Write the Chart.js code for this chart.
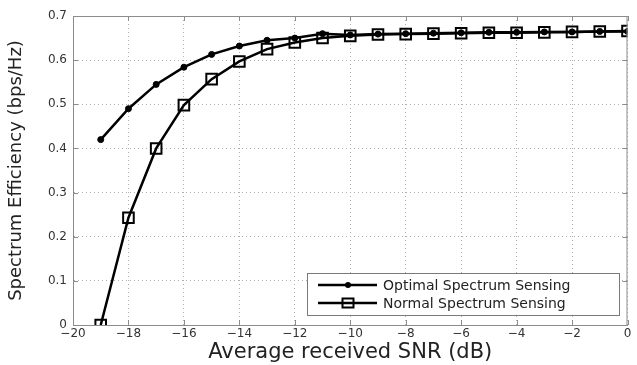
<!DOCTYPE html>
<html lang="en">
<head>
  <meta charset="UTF-8">
  <title>Spectrum Efficiency vs Average received SNR</title>
  <script src="https://cdn.jsdelivr.net/npm/chart.js"></script>
  <style>
    html, body { margin: 0; padding: 0; background: #fff; }
    #wrap { width: 637px; height: 365px; position: relative; }
  </style>
</head>
<body>
<div id="wrap"><canvas id="seChart"></canvas></div>

<script>
// SNR in dB
const snr = [-19, -18, -17, -16, -15, -14, -13, -12, -11, -10, -9, -8, -7, -6, -5, -4, -3, -2, -1, 0];
// spectrum efficiency (bps/Hz)
const optimal = [0.42, 0.49, 0.545, 0.584, 0.613, 0.632, 0.645, 0.650, 0.660, 0.657, 0.659, 0.660, 0.661, 0.662, 0.663, 0.663, 0.664, 0.664, 0.665, 0.665];
const normal = [0.0, 0.243, 0.40, 0.498, 0.557, 0.597, 0.625, 0.640, 0.650, 0.655, 0.658, 0.659, 0.660, 0.661, 0.662, 0.662, 0.663, 0.664, 0.665, 0.666];
const seriesNames = ["Optimal Spectrum Sensing", "Normal Spectrum Sensing"];
const xTicks = [-20, -18, -16, -14, -12, -10, -8, -6, -4, -2, 0];

const FONT = "'DejaVu Sans', Arial, sans-serif";
const frameColor = "#8c8c8c";

const toPoints = (ys) => snr.map((x, i) => ({ x: x, y: ys[i] }));

// box round the plot, inward tick marks, and the legend inside the axes
const framePlugin = {
  id: "frame",
  afterDraw(chart) {
    const { ctx, chartArea: a, scales } = chart;
    ctx.save();
    ctx.strokeStyle = frameColor;
    ctx.lineWidth = 1;
    ctx.strokeRect(a.left + 0.5, a.top + 0.5, a.right - a.left - 1, a.bottom - a.top);
    ctx.beginPath();
    xTicks.forEach(v => {
      const px = Math.round(scales.x.getPixelForValue(v)) + 0.5;
      ctx.moveTo(px, a.bottom); ctx.lineTo(px, a.bottom - 5);
      ctx.moveTo(px, a.top); ctx.lineTo(px, a.top + 5);
    });
    scales.y.ticks.forEach(t => {
      const py = Math.round(scales.y.getPixelForValue(t.value)) + 0.5;
      ctx.moveTo(a.left, py); ctx.lineTo(a.left + 5, py);
      ctx.moveTo(a.right, py); ctx.lineTo(a.right - 5, py);
    });
    ctx.stroke();

    // legend
    const bx = 307, by = 273, bw = 312, bh = 42;
    ctx.fillStyle = "#fff";
    ctx.fillRect(bx, by, bw, bh);
    ctx.strokeStyle = "#7a7a7a";
    ctx.strokeRect(bx + 0.5, by + 0.5, bw, bh);
    const rows = [285, 303];
    ctx.font = "14px " + FONT;
    ctx.textBaseline = "middle";
    ctx.textAlign = "left";
    rows.forEach((ry, i) => {
      ctx.strokeStyle = "#000";
      ctx.lineWidth = 2.5;
      ctx.beginPath();
      ctx.moveTo(318, ry); ctx.lineTo(377, ry);
      ctx.stroke();
      if (i === 0) {
        ctx.fillStyle = "#000";
        ctx.beginPath();
        ctx.arc(348, ry, 3, 0, Math.PI * 2);
        ctx.fill();
      } else {
        ctx.lineWidth = 2;
        ctx.strokeRect(342.5, ry - 4.5, 11, 9);
      }
      ctx.fillStyle = "#222";
      ctx.fillText(seriesNames[i], 383, ry + 1);
    });
    ctx.restore();
  }
};

new Chart(document.getElementById("seChart"), {
  type: "scatter",
  data: {
    datasets: [
      {
        label: seriesNames[0],
        data: toPoints(optimal),
        showLine: true,
        borderColor: "#000",
        borderWidth: 2.5,
        pointStyle: "circle",
        pointRadius: 3,
        pointBackgroundColor: "#000",
        pointBorderColor: "#000",
        pointBorderWidth: 1
      },
      {
        label: seriesNames[1],
        data: toPoints(normal),
        showLine: true,
        borderColor: "#000",
        borderWidth: 2.5,
        pointStyle: "rect",
        pointRadius: 7.5,
        pointBackgroundColor: "rgba(0,0,0,0)",
        pointBorderColor: "#000",
        pointBorderWidth: 2
      }
    ]
  },
  options: {
    responsive: true,
    maintainAspectRatio: false,
    animation: false,
    layout: { padding: { left: 0, right: 8, top: 16, bottom: 0 } },
    plugins: {
      legend: { display: false },
      tooltip: { enabled: false }
    },
    scales: {
      x: {
        type: "linear",
        min: -20,
        max: 0,
        afterBuildTicks: (scale) => { scale.ticks = xTicks.map(v => ({ value: v })); },
        afterFit: (scale) => { scale.height = 40; },
        ticks: {
          padding: 2,
          color: "#333",
          font: { family: FONT, size: 12 },
          callback: (v) => (v < 0 ? "\u2212" + Math.abs(v) : String(v))
        },
        grid: { color: "#b0b0b0", drawTicks: false },
        border: { display: true, color: frameColor, dash: [1, 3] },
        title: {
          display: true,
          text: "Average received SNR (dB)",
          color: "#222",
          font: { family: FONT, size: 21 },
          padding: { top: 0, bottom: 0 }
        }
      },
      y: {
        type: "linear",
        min: 0,
        max: 0.7,
        afterFit: (scale) => { scale.width = 73; },
        ticks: {
          stepSize: 0.1,
          padding: 6,
          color: "#333",
          font: { family: FONT, size: 12 },
          callback: (v) => (Math.abs(v) < 1e-9 ? "0" : v.toFixed(1))
        },
        grid: { color: "#b0b0b0", drawTicks: false },
        border: { display: true, color: frameColor, dash: [1, 3] },
        title: {
          display: true,
          text: "Spectrum Efficiency (bps/Hz)",
          color: "#222",
          font: { family: FONT, size: 18 },
          padding: { top: 6, bottom: 0 }
        }
      }
    }
  },
  plugins: [framePlugin]
});
</script>
</body>
</html>
